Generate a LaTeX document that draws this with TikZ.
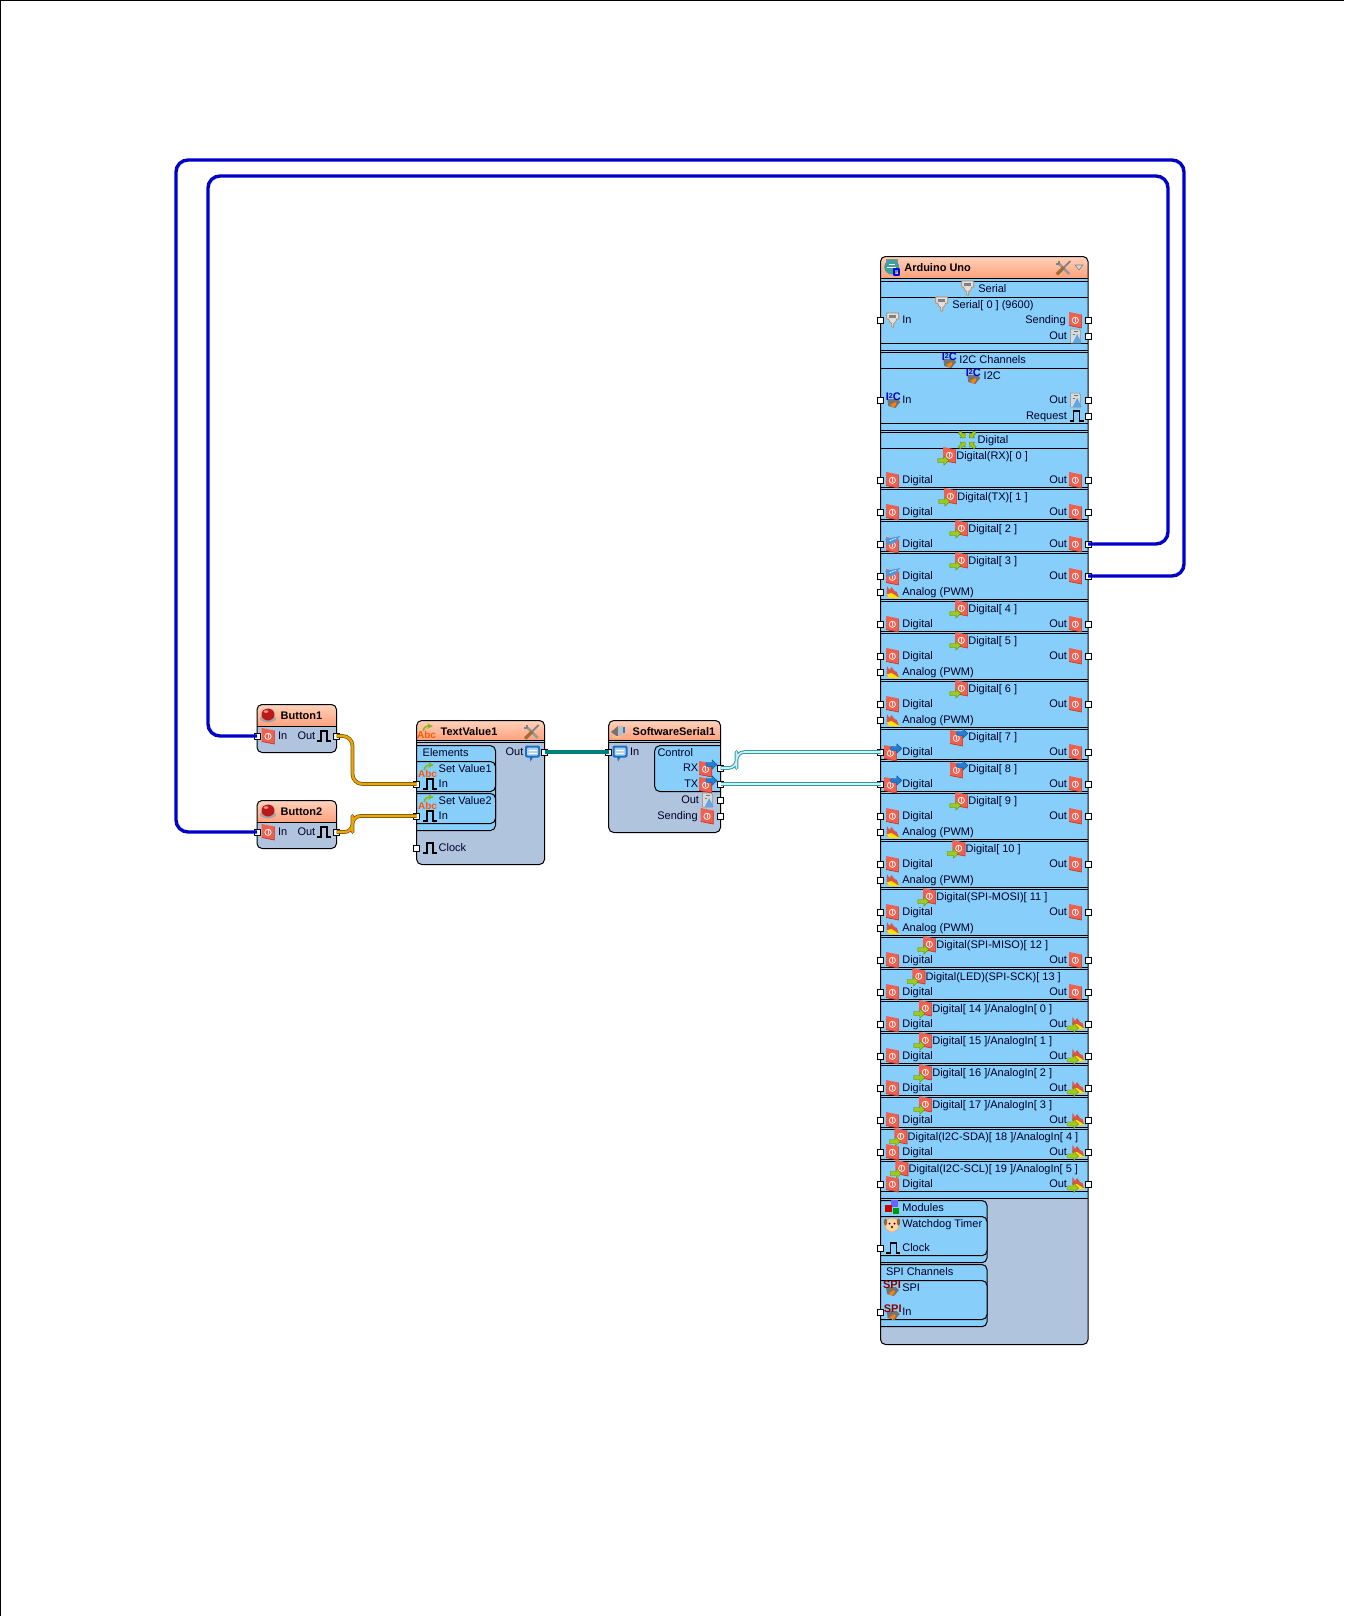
\documentclass[tikz,border=0pt]{standalone}
\usepackage{fontspec}
\setmainfont{Liberation Sans}
\definecolor{bodyc}{HTML}{B0C4DE}
\definecolor{panelc}{HTML}{87CEFA}
\definecolor{headc}{HTML}{FFA07A}
\definecolor{headl}{HTML}{FFD2BC}
\definecolor{redc}{HTML}{F0604E}
\definecolor{redd}{HTML}{C23A28}
\definecolor{greenc}{HTML}{9CCB1E}
\definecolor{greend}{HTML}{5E8A10}
\definecolor{bluec}{HTML}{1E7FD6}
\definecolor{blued}{HTML}{0F4C96}
\definecolor{wireb}{HTML}{0000C8}
\definecolor{wireo}{HTML}{F2A400}
\definecolor{wireod}{HTML}{6E5A20}
\newcount\lc
\tikzset{
  lab/.style={inner sep=0pt,outer sep=0pt,font=\fontsize{11}{11}\selectfont,text=black!85!blue},
  boldlab/.style={inner sep=0pt,outer sep=0pt,font=\fontsize{11}{11}\selectfont\bfseries,text=black},
  pinbox/.style={draw=black,fill=white,line width=.9pt,minimum size=6pt,inner sep=0pt,outer sep=0pt,rectangle},
  sep/.style={draw=black,line width=1pt},
  frame/.style={draw=black,line width=1pt},
  wireblue/.style={draw=wireb,line width=3.4pt,rounded corners=12pt},
}
% text helpers
\newcommand\tL[3]{\global\advance\lc 1 \node[lab,anchor=base west] (t\the\lc) at (#1,#2+3.6) {#3};}
\newcommand\tR[3]{\global\advance\lc 1 \node[lab,anchor=base east] (t\the\lc) at (#1,#2+3.6) {#3};}
\newcommand\tB[3]{\global\advance\lc 1 \node[boldlab,anchor=base west] (t\the\lc) at (#1,#2+3.6) {#3};}
\newcommand\pinat[3]{\node[pinbox] (#1) at (#2,#3) {};}
% icons
\newcommand\shapeRed{%
  \fill[redc] (-6.3,-8) -- (6.3,-5.5) -- (6.3,8) -- (-6.3,5.5) -- cycle;
  \draw[redd,line width=.7pt] (6.3,-5.5) -- (6.3,8) -- (-6.3,5.5);
  \draw[white!85!redc,line width=.9pt] (0,.3) circle (3.1);
  \draw[white!85!redc,line width=.9pt] (0,-1.8) -- (0,2.2);}
\newcommand\shapeArrow[2]{%
  \filldraw[fill=#1,draw=#2,line width=.4pt] (-5.5,-2) -- (.5,-2) -- (.5,-4.8) -- (5.5,0) -- (.5,4.8) -- (.5,2) -- (-5.5,2) -- cycle;}
\newcommand\icoRed[2]{\begin{scope}[shift={(#1,#2)}]\shapeRed\end{scope}}
\newcommand\icoDT[2]{\begin{scope}[shift={(#1,#2)}]
  \begin{scope}[shift={(3,-1)}]\shapeRed\end{scope}
  \begin{scope}[shift={(-3,4.5)}]\shapeArrow{greenc}{greend}\end{scope}\end{scope}}
\newcommand\icoRB[2]{\begin{scope}[shift={(#1,#2)}]
  \begin{scope}[shift={(-2,1)}]\shapeRed\end{scope}
  \begin{scope}[shift={(4,-3.5)}]\shapeArrow{bluec}{blued}\end{scope}\end{scope}}
\newcommand\icoPWM[2]{\begin{scope}[shift={(#1,#2)}]
  \begin{scope}[shift={(0,1)}]\shapeRed\end{scope}
  \fill[bluec!80!white] (-7,-5) -- (8,-8) -- (2,-1) -- (-4,1) -- cycle;
  \draw[white,line width=.5pt] (-3,-3) -- (4,-6);\end{scope}}
\newcommand\shapeAna{%
  \fill[redc!90!black] (-6,4) -- (-5.5,-6) -- (-3,-2) -- (-1,-5) -- (2,-1) -- (4.5,0) -- (6,5) -- cycle;
  \fill[yellow!85!orange] (-6,2.5) -- (-1,1) -- (3,3.5) -- (7,6.5) -- (-3,6) -- cycle;}
\newcommand\icoAna[2]{\begin{scope}[shift={(#1,#2)}]\shapeAna\end{scope}}
\newcommand\icoAO[2]{\begin{scope}[shift={(#1,#2)}]
  \begin{scope}[shift={(2,-1)}]\shapeAna\end{scope}
  \begin{scope}[shift={(-3,4)}]\shapeArrow{greenc}{greend}\end{scope}\end{scope}}
\newcommand\icoSer[2]{\begin{scope}[shift={(#1,#2)}]
  \filldraw[fill=black!12,draw=black!40!orange!70!white,line width=.6pt] (-6,-7) -- (6,-7) -- (6,-1) -- (4,-1) -- (3,2) -- (1,3.5) -- (1,7) -- (-1,7) -- (-1,3.5) -- (-3,2) -- (-4,-1) -- (-6,-1) -- cycle;
  \fill[black!50] (-3.5,-5) rectangle (3.5,-2.5);\end{scope}}
\newcommand\icoBoxText[4]{\begin{scope}[shift={(#1,#2)}]
  \fill[black!55] (-6,-1) -- (4,-1) -- (7,2) -- (2,8) -- (-5,6) -- cycle;
  \fill[orange] (-3,5) -- (2,2) -- (3,4) -- (0,8) -- cycle;
  \global\advance\lc 1 \node[inner sep=0pt,font=\fontsize{11}{11}\selectfont\bfseries,text=#3] (t\the\lc) at (0,-3) {#4};\end{scope}}
\newcommand\icoIIC[2]{\icoBoxText{#1}{#2}{blue!75!black}{I\raisebox{2.5pt}{\fontsize{7}{7}\selectfont 2}C}}
\newcommand\icoSPI[2]{\icoBoxText{#1}{#2}{red!55!black}{SPI}}
\newcommand\icoBin[2]{\begin{scope}[shift={(#1,#2)}]
  \filldraw[fill=black!15,draw=black!45,line width=.5pt] (-5,-7) -- (3,-7) -- (5,-5) -- (5,7) -- (-5,7) -- cycle;
  \fill[bluec!70!white] (-3,7) -- (1.5,-2) -- (6,7) -- cycle;
  \draw[black!55,line width=.8pt] (-2,-4.5) -- (2,-4.5) (-3,-1.5) -- (-.5,-1.5);\end{scope}}
\newcommand\icoPulse[2]{\begin{scope}[shift={(#1,#2)}]
  \draw[black,line width=1.2pt,line join=miter] (-7,5) -- (-3,5) -- (-3,-5) -- (3,-5) -- (3,5) -- (7,5);\end{scope}}
\newcommand\icoBub[2]{\begin{scope}[shift={(#1,#2)}]
  \fill[bluec!90!black,rounded corners=2pt] (-7.5,-7) rectangle (7.5,5);
  \fill[bluec!90!black] (-3,4) -- (1,4) -- (-2,9) -- cycle;
  \fill[white!65!bluec,rounded corners=1pt] (-5.5,-5) rectangle (5.5,3);
  \draw[white,line width=1pt] (-4,-2.5) -- (4,-2.5) (-4,.5) -- (4,.5);\end{scope}}
\newcommand\icoTools[2]{\begin{scope}[shift={(#1,#2)}]
  \draw[black!40,line width=2.6pt] (-4,-4) -- (6,6);
  \draw[black!50,line width=2pt] (-7.5,-4.5) -- (-4.5,-4.5) -- (-4.5,-7.5);
  \draw[brown!85!black,line width=3.4pt] (-6.5,6.5) -- (0.5,-.5);
  \draw[black!50,line width=1.8pt] (0.5,-.5) -- (7,-7);\end{scope}}
\newcommand\icoABC[2]{\begin{scope}[shift={(#1,#2)}]
  \draw[greenc!90!black,line width=1.6pt,-stealth] (-4,-1) .. controls (-3,-6) and (1,-6) .. (6,-6);
  \global\advance\lc 1 \node[inner sep=0pt,font=\fontsize{10}{10}\selectfont\bfseries,text=orange!70!red] (t\the\lc) at (-.5,3) {Abc};\end{scope}}
\newcommand\icoBtn[2]{\begin{scope}[shift={(#1,#2)}]
  \fill[black!35] (0,3.5) ellipse (8 and 4);
  \fill[red!70!black!90!white] (0,-.5) ellipse (6.5 and 6);
  \fill[white!55!red] (-2,-3.5) ellipse (2.4 and 1.3);\end{scope}}
\newcommand\icoSpk[2]{\begin{scope}[shift={(#1,#2)}]
  \fill[black!55] (-7,1) -- (0,-5) -- (0,6) -- cycle;
  \fill[black!25] (0,-5) rectangle (5,5);
  \fill[bluec] (5,-4) rectangle (6.5,2);
  \fill[orange!50!white] (-6,5) -- (3,5) -- (1,7) -- (-5,7) -- cycle;\end{scope}}
\newcommand\icoArd[2]{\begin{scope}[shift={(#1,#2)}]
  \fill[black!45] (-6,-8) rectangle (6,-3);
  \fill[teal!75!white] (0,0) circle (7.5);
  \draw[white,line width=.9pt] (-4.5,0) -- (4,0) (-3,-3) -- (3,-3);
  \draw[blue!90!black,line width=1.6pt] (2.5,2) rectangle (7.5,8);\end{scope}}
\newcommand\icoDog[2]{\begin{scope}[shift={(#1,#2)}]
  \filldraw[fill=orange!35!white,draw=brown!70,line width=.5pt] (0,0) circle (7);
  \fill[brown!80!black] (-6.5,-3) ellipse (1.7 and 3.5) (6.5,-3) ellipse (1.7 and 3.5);
  \fill[black] (-2.5,-1.5) circle (1) (2.5,-1.5) circle (1) (0,2) circle (1.2);\end{scope}}
\newcommand\icoMods[2]{\begin{scope}[shift={(#1,#2)}]
  \fill[blue!60!white] (-1,-8) rectangle (6,-1);
  \fill[red!80!black] (-7,-3) rectangle (0,4);
  \fill[green!60!black] (1,0) rectangle (7,6);\end{scope}}
\newcommand\icoDigS[2]{\begin{scope}[shift={(#1,#2)}]
  \begin{scope}[shift={(-5,-5)},scale=.75,rotate=-45]\shapeArrow{greenc}{greend}\end{scope}
  \begin{scope}[shift={(5,-5)},scale=.75,rotate=-135]\shapeArrow{greenc}{greend}\end{scope}
  \begin{scope}[shift={(-5,5)},scale=.75,rotate=45]\shapeArrow{greenc}{greend}\end{scope}
  \begin{scope}[shift={(5,5)},scale=.75,rotate=135]\shapeArrow{greenc}{greend}\end{scope}\end{scope}}
% module frame: x1 y1 x2 y2 header-bottom
\newcommand\modbody[5]{%
  \fill[bodyc,rounded corners=5pt] (#1,#2) rectangle (#3,#4);
  \shade[top color=headl,bottom color=headc] (#1,#5) [rounded corners=5pt] -- (#1,#2) -- (#3,#2) [sharp corners] -- (#3,#5) -- cycle;
  \draw[sep] (#1,#5) -- (#3,#5);}
\newcommand\modframe[4]{\draw[frame,rounded corners=5pt] (#1,#2) rectangle (#3,#4);}
% left-attached panel with rounded right side
\newcommand\lpanel[4]{\filldraw[fill=panelc,draw=black,line width=1pt] (#1,#2) [rounded corners=5pt] -- (#3,#2) -- (#3,#4) [sharp corners] -- (#1,#4);}
% Arduino rows: name, title x, title y, pin y, title, title icon, in icon, out icon
\newcommand\drow[8]{%
  #6{#2-10}{#3}
  \tL{#2}{#3}{#5}
  #7{892.3}{#4}
  \tL{902.3}{#4}{Digital}
  #8
  \tR{1067}{#4}{Out}
  \pinat{#1in}{880.5}{#4}
  \pinat{#1out}{1088}{#4}}
\newcommand\anarow[2]{\icoAna{892.5}{#2}\tL{902.3}{#2}{Analog (PWM)}\pinat{#1an}{880.5}{#2}}
\begin{document}
\begin{tikzpicture}[x=1pt,y=-1pt,line join=round]
\useasboundingbox (0,0) rectangle (1344,1616);
\fill[white] (0,0) rectangle (1344,1616);
\draw[black,line width=1.4pt] (.5,1616) -- (.5,.5) -- (1344,.5);

% ---------- Button1
\modbody{257}{704.5}{336.5}{752.5}{726.5}
\icoBtn{268}{715}
\tB{280.7}{716}{Button1}
\icoRed{268}{736}\tL{278}{736}{In}
\tR{315.3}{736}{Out}\icoPulse{324}{736}
\modframe{257}{704.5}{336.5}{752.5}
\pinat{b1in}{257}{736}\pinat{b1out}{336.5}{736}
% ---------- Button2
\modbody{257}{800.5}{336.5}{848.5}{822.5}
\icoBtn{268}{811}
\tB{280.7}{812}{Button2}
\icoRed{268}{832}\tL{278}{832}{In}
\tR{315.3}{832}{Out}\icoPulse{324}{832}
\modframe{257}{800.5}{336.5}{848.5}
\pinat{b2in}{257}{832}\pinat{b2out}{336.5}{832}

% ---------- TextValue1
\modbody{416.7}{720.5}{544.5}{864.5}{740.5}
\draw[sep] (416.7,742.7) -- (544.5,742.7);
\icoABC{427}{732}
\tB{440.7}{732}{TextValue1}
\icoTools{531.7}{732}
\lpanel{416.7}{745.7}{495.5}{830.5}
\tL{422.7}{753}{Elements}
\lpanel{416.7}{761.5}{495.5}{791.5}
\lpanel{416.7}{793.5}{495.5}{823.5}
\icoABC{428}{771}\tL{438.7}{768.7}{Set Value1}
\icoPulse{430}{784}\tL{438.7}{784}{In}
\icoABC{428}{803}\tL{438.7}{800.7}{Set Value2}
\icoPulse{430}{816}\tL{438.7}{816}{In}
\icoPulse{430}{848}\tL{438.7}{848}{Clock}
\tR{523.3}{752}{Out}\icoBub{532.5}{752.5}
\modframe{416.7}{720.5}{544.5}{864.5}
\pinat{tvs1}{416.7}{784}\pinat{tvs2}{416.7}{816}\pinat{tvclk}{416.7}{848}\pinat{tvout}{544.5}{752}

% ---------- SoftwareSerial1
\modbody{608.7}{720.5}{720.5}{832.5}{740.5}
\draw[sep] (608.7,742.7) -- (720.5,742.7);
\icoSpk{618}{731}
\tB{632.7}{732}{SoftwareSerial1}
\filldraw[fill=panelc,draw=black,line width=1pt] (720.5,745.7) [rounded corners=5pt] -- (654.7,745.7) -- (654.7,791.5) [sharp corners] -- (720.5,791.5);
\tL{657.5}{753}{Control}
\icoBub{620}{752.5}\tL{630}{752}{In}
\tR{698.3}{768}{RX}\icoRB{707.5}{768}
\tR{698.3}{784}{TX}\icoRB{707.5}{784}
\tR{699}{800}{Out}\icoBin{707.7}{800}
\tR{697.7}{816}{Sending}\icoRed{707}{816}
\modframe{608.7}{720.5}{720.5}{832.5}
\pinat{ssin}{608.7}{752}\pinat{ssrx}{720.5}{768}\pinat{sstx}{720.5}{784}\pinat{ssout}{720.5}{800}\pinat{sssend}{720.5}{816}

% ---------- Arduino Uno
\modbody{880.5}{256.5}{1088}{1344.5}{278.5}
\fill[panelc] (880.5,279) rectangle (1088,1198);
\foreach \yy in {278.5,281,297.5,343.5,350.5,352.5,368.5,423.5,430.7,432.7,448.5,487.5,489.5,519.5,521.5,551.5,553.5,599.5,601.5,631.5,633.5,679.5,681.5,727.5,729.5,759.5,761.5,791.5,793.5,839.5,841.5,887.5,889.5,935.5,937.5,967.5,969.5,999.5,1001.5,1031.5,1033.5,1063.5,1065.5,1095.5,1097.5,1127.5,1129.5,1159.5,1161.5,1191.5,1198.5}
  {\draw[sep] (880.5,\yy) -- (1088,\yy);}
\icoArd{891.7}{267}
\tB{904.3}{268}{Arduino Uno}
\icoTools{1063.3}{268}
\filldraw[fill=black!15,draw=black!50,line width=.6pt] (1075,265) -- (1083,265) -- (1079,270) -- cycle;
\icoSer{967.7}{288}\tL{978.3}{288.5}{Serial}
\icoSer{941.7}{304}\tL{952.3}{304.5}{Serial[ 0 ] (9600)}
\icoSer{892.7}{320}\tL{902.3}{320}{In}
\tR{1065.7}{320}{Sending}\icoRed{1075.3}{320}
\tR{1067}{336}{Out}\icoBin{1075.7}{336}
\pinat{aserin}{880.5}{320}\pinat{asersend}{1088}{320}\pinat{aserout}{1088}{336}
\icoIIC{949.3}{360}\tL{959.3}{360}{I2C Channels}
\icoIIC{973.3}{376}\tL{983.7}{376}{I2C}
\icoIIC{893.3}{400}\tL{902.3}{400}{In}
\tR{1067}{400}{Out}\icoBin{1075.7}{400}
\tR{1067}{416}{Request}\icoPulse{1076.7}{416}
\pinat{aiin}{880.5}{400}\pinat{aiout}{1088}{400}\pinat{aireq}{1088}{416}
\icoDigS{967.3}{440}\tL{977.7}{440}{Digital}
\newcommand\oR[1]{\icoRed{1075.3}{#1}}
\newcommand\oA[1]{\icoAO{1076}{#1}}
\drow{d0}{956.3}{456}{480}{Digital(RX)[ 0 ]}{\icoDT}{\icoRed}{\oR{480}}
\drow{d1}{957.3}{497}{512}{Digital(TX)[ 1 ]}{\icoDT}{\icoRed}{\oR{512}}
\drow{d2}{968.3}{529}{544}{Digital[ 2 ]}{\icoDT}{\icoPWM}{\oR{544}}
\drow{d3}{968.3}{561}{576}{Digital[ 3 ]}{\icoDT}{\icoPWM}{\oR{576}}\anarow{d3}{592}
\drow{d4}{968.3}{609}{624}{Digital[ 4 ]}{\icoDT}{\icoRed}{\oR{624}}
\drow{d5}{968.3}{641}{656}{Digital[ 5 ]}{\icoDT}{\icoRed}{\oR{656}}\anarow{d5}{672}
\drow{d6}{968.3}{689}{704}{Digital[ 6 ]}{\icoDT}{\icoRed}{\oR{704}}\anarow{d6}{720}
\drow{d7}{968.3}{737}{752}{Digital[ 7 ]}{\icoRB}{\icoRB}{\oR{752}}
\drow{d8}{968.3}{769}{784}{Digital[ 8 ]}{\icoRB}{\icoRB}{\oR{784}}
\drow{d9}{968.3}{801}{816}{Digital[ 9 ]}{\icoDT}{\icoRed}{\oR{816}}\anarow{d9}{832}
\drow{d10}{965.7}{849}{864}{Digital[ 10 ]}{\icoDT}{\icoRed}{\oR{864}}\anarow{d10}{880}
\drow{d11}{936.3}{897}{912}{Digital(SPI-MOSI)[ 11 ]}{\icoDT}{\icoRed}{\oR{912}}\anarow{d11}{928}
\drow{d12}{936.3}{945}{960}{Digital(SPI-MISO)[ 12 ]}{\icoDT}{\icoRed}{\oR{960}}
\drow{d13}{925.7}{977}{992}{Digital(LED)(SPI-SCK)[ 13 ]}{\icoDT}{\icoRed}{\oR{992}}
\drow{d14}{932.3}{1009}{1024}{Digital[ 14 ]/AnalogIn[ 0 ]}{\icoDT}{\icoRed}{\oA{1024}}
\drow{d15}{932.3}{1041}{1056}{Digital[ 15 ]/AnalogIn[ 1 ]}{\icoDT}{\icoRed}{\oA{1056}}
\drow{d16}{932.3}{1073}{1088}{Digital[ 16 ]/AnalogIn[ 2 ]}{\icoDT}{\icoRed}{\oA{1088}}
\drow{d17}{932.3}{1105}{1120}{Digital[ 17 ]/AnalogIn[ 3 ]}{\icoDT}{\icoRed}{\oA{1120}}
\drow{d18}{907.7}{1137}{1152}{Digital(I2C-SDA)[ 18 ]/AnalogIn[ 4 ]}{\icoDT}{\icoRed}{\oA{1152}}
\drow{d19}{908.7}{1169}{1184}{Digital(I2C-SCL)[ 19 ]/AnalogIn[ 5 ]}{\icoDT}{\icoRed}{\oA{1184}}
% bottom panels
\lpanel{880.5}{1200.5}{987}{1262.7}
\lpanel{880.5}{1216.5}{987}{1255.7}
\icoMods{892.3}{1208}\tL{902.3}{1208}{Modules}
\icoDog{892}{1225}\tL{902.3}{1224}{Watchdog Timer}
\icoPulse{893.3}{1248}\tL{902.3}{1248}{Clock}
\pinat{aclk}{880.5}{1248}
\lpanel{880.5}{1264.5}{987}{1326.7}
\lpanel{880.5}{1280.5}{987}{1319.5}
\tL{886}{1272}{SPI Channels}
\icoSPI{892}{1288}\tL{902.3}{1288}{SPI}
\icoSPI{892.7}{1312}\tL{902.3}{1312}{In}
\pinat{aspi}{880.5}{1312}
\modframe{880.5}{256.5}{1088}{1344.5}
% re-draw pins over frame
\foreach \nm in {aserin,aiin,d0in,d1in,d2in,d3in,d4in,d5in,d6in,d7in,d8in,d9in,d10in,d11in,d12in,d13in,d14in,d15in,d16in,d17in,d18in,d19in,d3an,d5an,d6an,d9an,d10an,d11an,aclk,aspi,asersend,aserout,aiout,aireq,d0out,d1out,d2out,d3out,d4out,d5out,d6out,d7out,d8out,d9out,d10out,d11out,d12out,d13out,d14out,d15out,d16out,d17out,d18out,d19out}
  {\filldraw[fill=white,draw=black,line width=.9pt] (\nm.south west) rectangle (\nm.north east);}

% ---------- wires
\coordinate (oa) at (1184,160);
\coordinate (ob) at (176,160);
\coordinate (ia) at (1168,176);
\coordinate (ib) at (208,176);
\draw[wireblue] (d3out.center) -| (oa) -- (ob) |- (b2in.center);
\draw[wireblue] (d2out.center) -| (ia) -- (ib) |- (b1in.center);
\coordinate (w1) at (352.5,760);
\coordinate (w2) at (352.5,824);
\draw[draw=wireod,line width=3.8pt,rounded corners=10pt] (b1out.center) -| (w1) |- (tvs1.center);
\draw[draw=wireo,line width=2.2pt,rounded corners=10pt] (b1out.center) -| (w1) |- (tvs1.center);
\draw[draw=wireod,line width=3.8pt,rounded corners=8pt] (b2out.center) -| (w2) |- (tvs2.center);
\draw[draw=wireo,line width=2.2pt,rounded corners=8pt] (b2out.center) -| (w2) |- (tvs2.center);
\draw[draw=black!45,line width=4.6pt] (tvout.center) -- (ssin.center);
\draw[draw=teal,line width=3.4pt] (tvout.center) -- (ssin.center);
\coordinate (w3) at (736.5,760);
\draw[draw=teal!80!white,line width=3.6pt,rounded corners=8pt] (ssrx.center) -| (w3) |- (d7in.center);
\draw[draw=cyan!20!white,line width=1.6pt,rounded corners=8pt] (ssrx.center) -| (w3) |- (d7in.center);
\draw[draw=teal!80!white,line width=3.6pt] (sstx.center) -- (d8in.center);
\draw[draw=cyan!20!white,line width=1.6pt] (sstx.center) -- (d8in.center);
\end{tikzpicture}
\end{document}
